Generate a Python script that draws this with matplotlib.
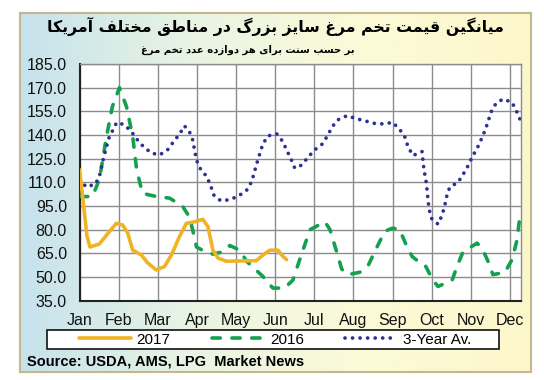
import numpy as np
import matplotlib.pyplot as plt
from matplotlib.patches import Rectangle
from matplotlib.colors import LinearSegmentedColormap

plt.rcParams['font.family'] = ['Liberation Sans', 'DejaVu Sans']

# --- data ---
months = ['Jan', 'Feb', 'Mar', 'Apr', 'May', 'Jun', 'Jul', 'Aug', 'Sep', 'Oct', 'Nov', 'Dec']
yticks = [35, 50, 65, 80, 95, 110, 125, 140, 155, 170, 185]

x_2017 = [0, 0.08, 0.19, 0.27, 0.51, 0.77, 0.94, 1.1, 1.23, 1.36, 1.58, 1.74, 1.96, 2.17, 2.35,
          2.56, 2.73, 2.94, 3.15, 3.28, 3.41, 3.54, 3.75, 4.52, 4.69, 4.86, 5.07, 5.2, 5.29]
y_2017 = [118, 101, 76, 69, 71, 79, 84, 83, 78, 67, 64, 59, 54.5, 56.6, 64,
          76, 84, 85, 86.6, 82, 67, 62, 60, 60.4, 64, 67, 67, 63, 61]

x_2016 = [0, 0.33, 0.51, 0.69, 0.84, 1.02, 1.2, 1.36, 1.46, 1.61, 1.97, 2.3, 2.63, 2.81, 2.89,
          2.99, 3.14, 3.41, 3.66, 3.84, 4.09, 4.27, 4.68, 4.94, 5.24, 5.45, 5.68, 5.89, 6.27,
          6.4, 6.57, 6.7, 6.85, 7.16, 7.37, 7.6, 7.8, 8.0, 8.18, 8.37, 8.5, 8.65, 8.83, 9.03,
          9.16, 9.52, 9.65, 9.8, 10.16, 10.31, 10.49, 10.56, 10.87, 11.05, 11.18, 11.26]
y_2016 = [101, 101, 112, 139, 158, 170, 158, 139, 118, 103, 101, 100, 95, 88, 80,
          69, 67, 64.5, 66, 70, 67, 60, 50.5, 43, 43, 48, 65, 80, 85,
          80, 66, 55, 51.5, 53, 57, 69, 79, 81, 80, 69, 63, 60, 57.5, 48,
          44, 48, 57, 66, 71.5, 67, 57, 51.5, 53, 61, 73.6, 90.5]

x_avg = [0, 0.18, 0.41, 0.51, 0.61, 0.75, 0.85, 0.95, 1.15, 1.33, 1.46, 1.63, 1.84, 2.05, 2.25,
         2.41, 2.56, 2.68, 2.81, 2.89, 2.99, 3.09, 3.25, 3.35, 3.43, 3.61, 3.84, 4.07, 4.27,
         4.4, 4.53, 4.68, 4.81, 5.04, 5.19, 5.29, 5.4, 5.5, 5.68, 5.83, 6.01, 6.19, 6.34,
         6.45, 6.6, 6.84, 7.06, 7.29, 7.52, 7.78, 8.0, 8.18, 8.32, 8.39, 8.52, 8.75, 8.8,
         8.85, 8.88, 8.93, 9.0, 9.16, 9.26, 9.33, 9.38, 9.46, 9.67, 9.8, 9.93, 10.03, 10.16,
         10.26, 10.36, 10.44, 10.51, 10.64, 10.82, 11.05, 11.16, 11.26]
y_avg = [111.6, 107, 109, 114, 125, 138, 143, 148, 146.5, 142, 137.5, 132.7, 128.5, 127.4, 130.6,
         136, 140.7, 145.8, 142, 137, 124, 118.5, 113.7, 108, 102, 98.3, 99, 101.5, 105,
         110.5, 122, 134, 139.4, 140.7, 136, 130.6, 125, 119, 121, 125.7, 130.6, 134, 139.6,
         145, 149.6, 152.3, 150.4, 149, 147.4, 147, 148, 143.6, 138.4, 132.7, 127, 129.5, 118,
         111.6, 105, 93, 87, 83.5, 89, 95, 101, 107, 110, 115, 120.6, 126, 131.6,
         137, 142.8, 148.5, 154.4, 160, 162.8, 160.7, 155.4, 149.6]

title = 'میانگین قیمت تخم مرغ سایز بزرگ در مناطق مختلف آمریکا'
subtitle = 'بر حسب سنت برای هر دوازده عدد تخم مرغ'
source = 'Source: USDA, AMS, LPG  Market News'

# arabic presentation forms: isolated, final, initial, medial
FORMS = {
    'ا': ('\uFE8D', '\uFE8E', None, None), 'آ': ('\uFE81', '\uFE82', None, None),
    'ب': ('\uFE8F', '\uFE90', '\uFE91', '\uFE92'), 'ت': ('\uFE95', '\uFE96', '\uFE97', '\uFE98'),
    'ح': ('\uFEA1', '\uFEA2', '\uFEA3', '\uFEA4'), 'خ': ('\uFEA5', '\uFEA6', '\uFEA7', '\uFEA8'),
    'د': ('\uFEA9', '\uFEAA', None, None), 'ر': ('\uFEAD', '\uFEAE', None, None),
    'ز': ('\uFEAF', '\uFEB0', None, None), 'س': ('\uFEB1', '\uFEB2', '\uFEB3', '\uFEB4'),
    'ط': ('\uFEC1', '\uFEC2', '\uFEC3', '\uFEC4'), 'ع': ('\uFEC9', '\uFECA', '\uFECB', '\uFECC'),
    'غ': ('\uFECD', '\uFECE', '\uFECF', '\uFED0'), 'ف': ('\uFED1', '\uFED2', '\uFED3', '\uFED4'),
    'ق': ('\uFED5', '\uFED6', '\uFED7', '\uFED8'), 'ل': ('\uFEDD', '\uFEDE', '\uFEDF', '\uFEE0'),
    'م': ('\uFEE1', '\uFEE2', '\uFEE3', '\uFEE4'), 'ن': ('\uFEE5', '\uFEE6', '\uFEE7', '\uFEE8'),
    'ه': ('\uFEE9', '\uFEEA', '\uFEEB', '\uFEEC'), 'و': ('\uFEED', '\uFEEE', None, None),
    'ک': ('\uFB8E', '\uFB8F', '\uFB90', '\uFB91'), 'گ': ('\uFB92', '\uFB93', '\uFB94', '\uFB95'),
    'ی': ('\uFBFC', '\uFBFD', '\uFBFE', '\uFBFF'),
}


def shape(text):
    out = []
    for i, c in enumerate(text):
        if c not in FORMS:
            out.append(c)
            continue
        iso, fin, ini, med = FORMS[c]
        prev = text[i - 1] if i > 0 else ''
        nxt = text[i + 1] if i + 1 < len(text) else ''
        jp = prev in FORMS and FORMS[prev][2] is not None
        jn = ini is not None and nxt in FORMS
        if jp and jn:
            out.append(med)
        elif jp:
            out.append(fin)
        elif jn:
            out.append(ini)
        else:
            out.append(iso)
    return ''.join(reversed(out))


W, H = 544, 380
fig = plt.figure(figsize=(W / 100, H / 100), dpi=100)


def fx(px):
    return px / W


def fy(py):
    return 1 - py / H


# panel background
bg = fig.add_axes([fx(19.5), fy(372), (530.5 - 19.5) / W, (372 - 13) / H], zorder=0)
cmap = LinearSegmentedColormap.from_list('bg', ['#c6e2ec', '#e9f4e4', '#fcfad8', '#fcf7cb'])
bg.imshow(np.linspace(0, 1, 256)[None, :], aspect='auto', cmap=cmap, extent=(0, 1, 0, 1))
bg.set_xticks([])
bg.set_yticks([])
for s in bg.spines.values():
    s.set_color('#c4b78d')
    s.set_linewidth(1.5)

ax = fig.add_axes([fx(79.5), fy(300.7), (521 - 79.5) / W, (300.7 - 64) / H], zorder=1)
ax.set_facecolor('white')
ax.plot(x_2017, y_2017, color='#F0B323', lw=2.6, solid_capstyle='round', label='2017', zorder=4)
ax.plot(x_2016, y_2016, color='#13A150', lw=2.6, ls=(0, (2.3, 3.2)), dash_capstyle='round',
        label='2016', zorder=3)
ax.plot(x_avg, y_avg, color='#2E3192', lw=2.7, ls=(0, (0.01, 2.0)), dash_capstyle='round',
        label='3-Year Av.', zorder=3)

ax.set_xlim(0, 11.28)
ax.set_ylim(35, 185)
ax.set_xticks(range(len(months)))
ax.set_xticklabels(months)
ax.set_yticks(yticks)
ax.set_yticklabels([f'{v:.1f}' for v in yticks])
ax.grid(color='#8c8c8c', lw=1)
ax.set_axisbelow(True)
ax.tick_params(length=0, labelsize=11.5, colors='#111111')
ax.tick_params(axis='x', pad=9)
ax.tick_params(axis='y', pad=9)
for side in ['left', 'bottom']:
    ax.spines[side].set_color('#222222')
    ax.spines[side].set_linewidth(1.5)
for side in ['top', 'right']:
    ax.spines[side].set_color('#8c8c8c')
    ax.spines[side].set_linewidth(1)

# legend box
fig.patches.append(Rectangle((fx(47), fy(349)), (499 - 47) / W, (349 - 330) / H,
                             transform=fig.transFigure, facecolor='white', edgecolor='#111111',
                             lw=1.2, zorder=2))
h, l = ax.get_legend_handles_labels()
fig.legend(h, l, loc='center', bbox_to_anchor=(fx(275), fy(339.5)), ncol=3, frameon=False,
           handlelength=3.4, columnspacing=2.7, handletextpad=0.4, fontsize=11)

fig.text(fx(27), fy(362), source, fontsize=10.5, fontweight='bold', va='center', ha='left')
fig.text(fx(275), fy(26), shape(title), family=['DejaVu Sans'], fontsize=11.3,
         fontweight='bold', ha='center', va='center')
fig.text(fx(248), fy(50), shape(subtitle), family=['DejaVu Sans'], fontsize=7.2,
         fontweight='bold', ha='center', va='center')

fig.savefig('out.png', dpi=100)
